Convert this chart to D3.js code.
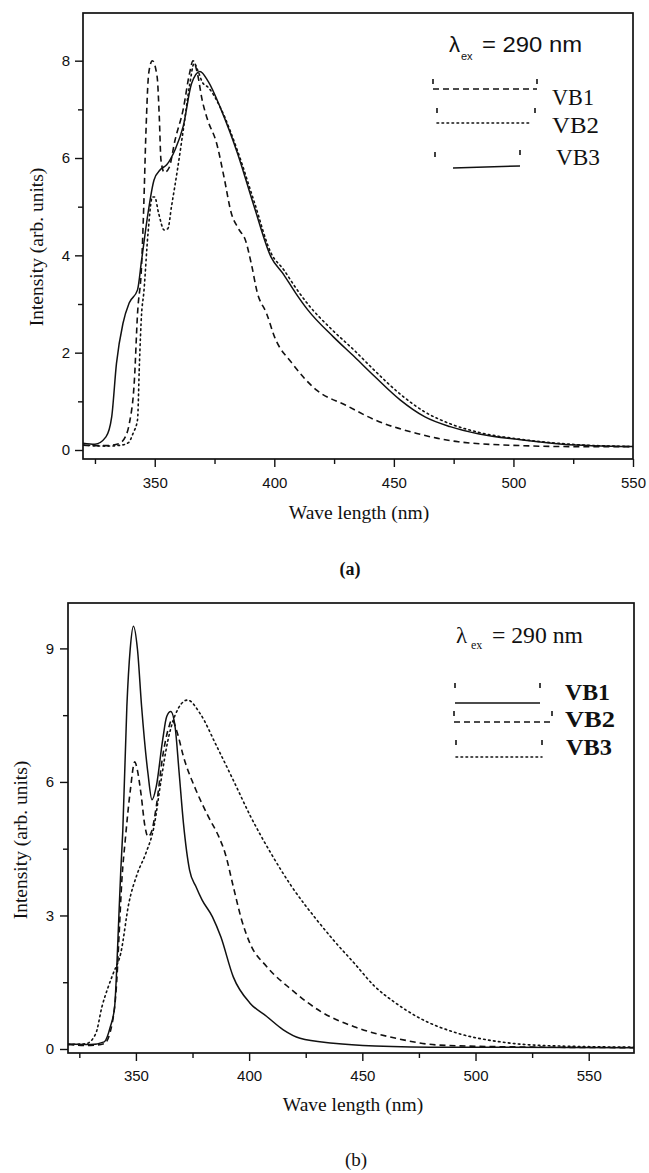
<!DOCTYPE html>
<html>
<head>
<meta charset="utf-8">
<script src="https://cdn.jsdelivr.net/npm/d3@7"></script>
<style>
  html, body { margin: 0; padding: 0; background: #fff; }
  svg { display: block; }
  .tick text { font-family: "Liberation Sans", Arial, sans-serif; font-size: 15px; fill: #111; }
  .tick line { stroke: #111; stroke-width: 1.4; }
  .domain { display: none; }
</style>
</head>
<body>
<svg id="chart" width="649" height="1173"></svg>
<script>
// ---- Panel (a): emission spectra, wavelength (nm) vs intensity ----
const aVB1 = [[320,0.10],[325,0.09],[330,0.09],[335,0.13],[338,0.3],[339.4,0.55],[341.5,1.44],[342.8,2.8],[344.5,3.8],[345.4,5.0],[346.3,6.5],[347.5,7.75],[349,8.0],[351,7.67],[351.9,6.85],[352.6,5.96],[354,5.7],[356,5.8],[358.5,6.37],[361.9,7.0],[364.6,7.75],[366,8.0],[368,7.7],[369.8,7.2],[372,6.8],[375.9,6.3],[379,5.6],[382,4.87],[385,4.55],[388,4.3],[390.5,3.8],[392.8,3.25],[396.8,2.8],[400.3,2.3],[407.3,1.79],[417.7,1.23],[429.9,0.92],[442,0.62],[459.6,0.34],[476.9,0.17],[503,0.09],[525,0.07],[550,0.07]];
const aVB2 = [[320,0.1],[330,0.08],[336,0.1],[339,0.15],[341,0.35],[342.8,0.62],[343.6,1.78],[344.5,2.8],[345.4,3.22],[347.2,4.46],[349,5.2],[350,5.2],[351.6,4.87],[354,4.52],[355.5,4.55],[357,5.0],[359.5,5.76],[362,6.6],[364.6,7.5],[366.5,7.95],[368,7.8],[370,7.55],[372.4,7.45],[377.8,7.0],[384.6,6.15],[391.6,5.1],[398.6,4.05],[404,3.7],[409,3.33],[414,3.0],[424.6,2.45],[433.4,2.05],[442,1.63],[452.6,1.15],[463,0.78],[473.5,0.54],[485.7,0.36],[503,0.22],[520.6,0.13],[550,0.07]];
const aVB3 = [[320,0.14],[325,0.12],[329.6,0.27],[332,0.68],[334,1.78],[336.7,2.6],[339.3,3.02],[342.8,3.29],[344.5,3.9],[347.2,4.87],[349.7,5.55],[352.3,5.76],[355,5.86],[358.5,6.17],[361.9,6.65],[365.4,7.53],[368.9,7.78],[372.4,7.57],[377.8,6.99],[384.6,6.1],[391.6,5.0],[398.6,3.97],[404,3.6],[409,3.22],[414,2.88],[424.6,2.33],[433.4,1.92],[442,1.51],[452.6,1.03],[463,0.68],[473.5,0.48],[485.7,0.33],[503,0.21],[520.6,0.12],[550,0.07]];
const aXTicks = [350, 400, 450, 500, 550];
const aXMinor = [325, 375, 425, 475, 525];
const aYTicks = [0, 2, 4, 6, 8];
const aYMinor = [1, 3, 5, 7];
const aLegend = ["VB1", "VB2", "VB3"];

// ---- Panel (b) ----
const bVB1 = [[320,0.11],[330,0.1],[336,0.16],[338.7,0.5],[340.6,0.95],[341.5,1.78],[342.4,2.9],[343.3,4.0],[344.2,4.9],[346,7.7],[347.5,9.0],[348.9,9.5],[350.7,8.97],[352.5,7.7],[355.3,6.2],[357.1,5.6],[359,5.9],[361.8,6.94],[363.6,7.47],[365.4,7.58],[367.3,7.24],[369.1,6.2],[371,5.07],[373.7,4.02],[376.5,3.65],[379.2,3.35],[383.8,2.97],[387.5,2.52],[393,1.62],[400.4,1.03],[407.8,0.73],[415.1,0.43],[422.5,0.24],[437.2,0.13],[455.6,0.07],[490,0.04],[570,0.03]];
const bVB2 = [[320,0.1],[330,0.08],[336,0.12],[339.6,0.6],[341.5,1.5],[342.6,2.6],[343.8,3.8],[345.3,4.7],[347.5,5.8],[349.5,6.45],[350.5,6.3],[352.2,5.75],[354,5.0],[355.3,4.77],[357,4.9],[359,5.45],[361.8,6.57],[364.6,7.24],[365.9,7.4],[368.3,7.1],[371,6.57],[376.5,5.82],[382,5.22],[386.6,4.77],[389.4,4.4],[393,3.65],[396.7,2.9],[400.4,2.37],[407.8,1.85],[418.8,1.33],[431.7,0.84],[446.4,0.5],[464.9,0.24],[483.3,0.09],[513,0.05],[570,0.03]];
const bVB3 = [[320,0.1],[328,0.12],[332.3,0.35],[335,0.95],[337.8,1.4],[340,1.7],[343.3,2.15],[346.9,3.28],[350.7,3.95],[354.4,4.4],[358,5.0],[361,6.0],[364,6.9],[367.3,7.5],[372.8,7.84],[378.3,7.54],[385.7,6.8],[393,6.04],[400.4,5.25],[409.6,4.4],[418.8,3.65],[429.9,2.9],[437.2,2.45],[446.4,1.93],[455.6,1.4],[464.8,1.03],[474,0.73],[492.4,0.35],[511,0.16],[529,0.08],[570,0.04]];
const bXTicks = [350, 400, 450, 500, 550];
const bXMinor = [325, 375, 425, 475, 525];
const bYTicks = [0, 3, 6, 9];
const bYMinor = [1.5, 4.5, 7.5];
const bLegend = ["VB1", "VB2", "VB3"];

const xTitle = "Wave length (nm)";
const yTitle = "Intensity (arb. units)";

const svg = d3.select("#chart");
const serif = '"Liberation Serif", "Times New Roman", serif';
const sans = '"Liberation Sans", Arial, sans-serif';

const DASH = "6,4";
const DOT = "1.6,3.4";

function panel(cfg) {
  const { box, xDomain, yDomain, series, styles, xTicks, xMinor, yTicks, yMinor, id } = cfg;
  const x = d3.scaleLinear().domain(xDomain).range([box.left, box.right]);
  const y = d3.scaleLinear().domain(yDomain).range([box.bottom, box.top]);
  const g = svg.append("g");

  g.append("defs").append("clipPath").attr("id", id)
    .append("rect").attr("x", box.left).attr("y", box.top)
    .attr("width", box.right - box.left).attr("height", box.bottom - box.top);

  // axes: major ticks with labels, minor ticks without
  g.append("g").attr("transform", `translate(0,${box.bottom})`)
    .call(d3.axisBottom(x).tickValues(xTicks).tickSize(8).tickPadding(cfg.xPad).tickSizeOuter(0).tickFormat(d3.format("d")));
  g.append("g").attr("transform", `translate(0,${box.bottom})`)
    .call(d3.axisBottom(x).tickValues(xMinor).tickSize(5).tickSizeOuter(0).tickFormat(""));
  g.append("g").attr("transform", `translate(${box.left},0)`)
    .call(d3.axisLeft(y).tickValues(yTicks).tickSize(8).tickPadding(cfg.yPad).tickSizeOuter(0).tickFormat(d3.format("d")));
  g.append("g").attr("transform", `translate(${box.left},0)`)
    .call(d3.axisLeft(y).tickValues(yMinor).tickSize(5).tickSizeOuter(0).tickFormat(""));

  const line = d3.line().x(d => x(d[0])).y(d => y(d[1])).curve(d3.curveMonotoneX);
  const plot = g.append("g").attr("clip-path", `url(#${id})`);
  series.forEach((s, i) => {
    plot.append("path").datum(s)
      .attr("d", line)
      .attr("fill", "none")
      .attr("stroke", "#111")
      .attr("stroke-width", styles[i].w)
      .attr("stroke-linecap", styles[i].dash === DOT ? "round" : "butt")
      .attr("stroke-dasharray", styles[i].dash);
  });

  // frame
  g.append("rect").attr("x", box.left).attr("y", box.top)
    .attr("width", box.right - box.left).attr("height", box.bottom - box.top)
    .attr("fill", "none").attr("stroke", "#111").attr("stroke-width", 1.7);

  // axis titles
  g.append("text").attr("x", cfg.xTitle.x).attr("y", cfg.xTitle.y)
    .attr("text-anchor", "middle").attr("font-family", serif).attr("font-size", 19.5)
    .attr("fill", "#111").text(xTitle);
  g.append("text")
    .attr("transform", `translate(${cfg.yTitle.x},${cfg.yTitle.y}) rotate(-90)`)
    .attr("text-anchor", "middle").attr("font-family", serif).attr("font-size", 19.5)
    .attr("fill", "#111").text(yTitle);
  return g;
}

function legendMark(g, x, y) {
  g.append("line").attr("x1", x).attr("x2", x).attr("y1", y).attr("y2", y + 5)
    .attr("stroke", "#111").attr("stroke-width", 1.6);
}

// ----- panel (a) -----
const stylesA = [{ dash: DASH, w: 1.6 }, { dash: DOT, w: 1.6 }, { dash: null, w: 1.5 }];
const gA = panel({
  id: "clipA",
  box: { left: 83, right: 633, top: 13, bottom: 459 },
  xDomain: [320, 550], yDomain: [-0.185, 8.98],
  series: [aVB1, aVB2, aVB3], styles: stylesA,
  xTicks: aXTicks, xMinor: aXMinor, yTicks: aYTicks, yMinor: aYMinor,
  xPad: 10, yPad: 5,
  xTitle: { x: 359, y: 519 }, yTitle: { x: 43, y: 247 }
});

// excitation wavelength note (a)
const lamA = gA.append("text").attr("font-family", sans).attr("fill", "#111");
lamA.append("tspan").attr("x", 449).attr("y", 52).attr("font-size", 22).text("λ");
lamA.append("tspan").attr("x", 461).attr("y", 60).attr("font-size", 11).text("ex");
gA.append("text").attr("x", 482).attr("y", 52).attr("font-family", sans).attr("font-size", 22)
  .attr("fill", "#111").attr("textLength", 100).attr("lengthAdjust", "spacingAndGlyphs").text("= 290 nm");

// legend (a)
const legA = [
  { x1: 433, x2: 537, ly: 89, m1: 79, m2: 79, tx: 552, ty: 105, tl: 42 },
  { x1: 437, x2: 531, ly: 123, m1: 108, m2: 108, tx: 552, ty: 133, tl: 47 },
  { x1: 453, x2: 520, ly: 168, m1: 152, m2: 150, tx: 556, ty: 165, tl: 44 }
];
legA.forEach((L, i) => {
  gA.append("line").attr("x1", L.x1).attr("x2", L.x2).attr("y1", L.ly).attr("y2", i === 2 ? L.ly - 2 : L.ly)
    .attr("stroke", "#111").attr("stroke-width", stylesA[i].w)
    .attr("stroke-linecap", stylesA[i].dash === DOT ? "round" : "butt")
    .attr("stroke-dasharray", stylesA[i].dash);
  legendMark(gA, i === 2 ? 435 : L.x1, L.m1);
  legendMark(gA, i === 2 ? 520 : (i === 1 ? 535 : L.x2), L.m2);
  gA.append("text").attr("x", L.tx).attr("y", L.ty).attr("font-family", serif).attr("font-size", 24)
    .attr("fill", "#111").attr("textLength", L.tl).attr("lengthAdjust", "spacingAndGlyphs").text(aLegend[i]);
});

svg.append("text").attr("x", 350).attr("y", 575).attr("text-anchor", "middle")
  .attr("font-family", serif).attr("font-weight", "bold").attr("font-size", 18).attr("fill", "#111").text("(a)");

// ----- panel (b) -----
const stylesB = [{ dash: null, w: 1.5 }, { dash: DASH, w: 1.6 }, { dash: DOT, w: 1.6 }];
const gB = panel({
  id: "clipB",
  box: { left: 68, right: 634, top: 603, bottom: 1053 },
  xDomain: [320, 570], yDomain: [-0.09, 10.02],
  series: [bVB1, bVB2, bVB3], styles: stylesB,
  xTicks: bXTicks, xMinor: bXMinor, yTicks: bYTicks, yMinor: bYMinor,
  xPad: 9, yPad: 6,
  xTitle: { x: 353, y: 1111 }, yTitle: { x: 27, y: 840 }
});

const lamB = gB.append("text").attr("font-family", serif).attr("fill", "#111");
lamB.append("tspan").attr("x", 456).attr("y", 643).attr("font-size", 23).text("λ");
lamB.append("tspan").attr("x", 471).attr("y", 649).attr("font-size", 12).text("ex");
gB.append("text").attr("x", 492).attr("y", 643).attr("font-family", serif).attr("font-size", 23)
  .attr("fill", "#111").attr("textLength", 91).attr("lengthAdjust", "spacingAndGlyphs").text("= 290 nm");

const legB = [
  { x1: 455, x2: 540, ly: 703, m: 683, tx: 565, ty: 700, tl: 45 },
  { x1: 454, x2: 552, ly: 722, m: 711, tx: 565, ty: 727, tl: 50 },
  { x1: 456, x2: 542, ly: 757, m: 740, tx: 566, ty: 755, tl: 46 }
];
legB.forEach((L, i) => {
  gB.append("line").attr("x1", L.x1).attr("x2", L.x2).attr("y1", L.ly).attr("y2", L.ly)
    .attr("stroke", "#111").attr("stroke-width", stylesB[i].w)
    .attr("stroke-linecap", stylesB[i].dash === DOT ? "round" : "butt")
    .attr("stroke-dasharray", stylesB[i].dash);
  legendMark(gB, L.x1, L.m);
  legendMark(gB, L.x2, L.m);
  gB.append("text").attr("x", L.tx).attr("y", L.ty).attr("font-family", serif).attr("font-weight", "bold")
    .attr("font-size", 23).attr("fill", "#111").attr("textLength", L.tl).attr("lengthAdjust", "spacingAndGlyphs")
    .text(bLegend[i]);
});

svg.append("text").attr("x", 356).attr("y", 1166).attr("text-anchor", "middle")
  .attr("font-family", serif).attr("font-size", 19).attr("fill", "#111").text("(b)");
</script>
</body>
</html>
